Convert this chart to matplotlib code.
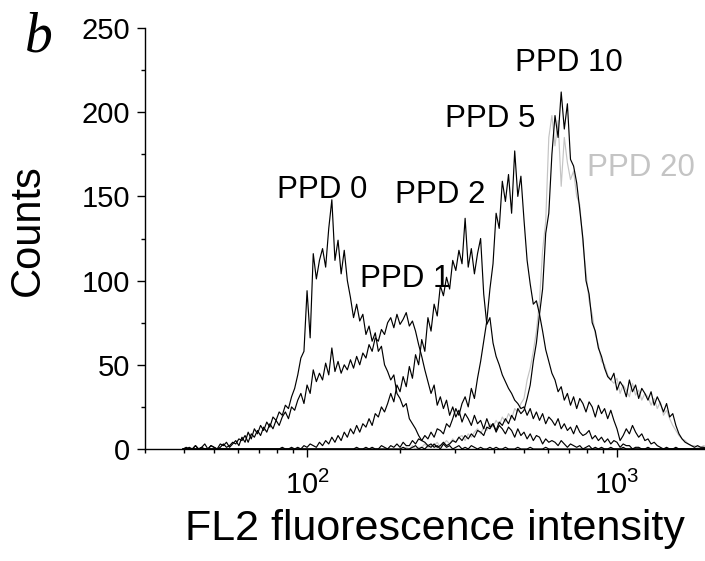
import numpy as np
import matplotlib
matplotlib.use("Agg")
import matplotlib.pyplot as plt
from matplotlib.ticker import MultipleLocator, FixedLocator, FixedFormatter, LogLocator, NullFormatter

plt.rcParams['font.family'] = ['Liberation Sans', 'DejaVu Sans']

# FL2 channels: log10 intensity from 1.60 in steps of 0.01 (171 channels)
log_start = 1.60
log_step = 0.01
n_channels = 171

ppd0 = [0,0,1,0,2,0,1,3,0,2,
        1,0,3,2,4,1,3,5,2,7,
        4,10,6,12,9,14,11,16,13,19,
        17,22,20,26,24,31,36,44,54,58,
        94,66,116,101,112,119,108,131,148,112,
        124,104,118,100,90,78,86,76,80,68,
        73,64,69,58,61,50,46,41,44,33,
        30,25,27,18,15,12,8,5,4,2,
        3,1,2,0,3,1,2,0,1,2,
        0,1,0,2,1,0,1,0,0,1,
        0,1,0,0,1,0,0,0,1,0,
        0,0,1,0,0,0,0,1,0,0,
        0,0,0,0,0,0,0,0,0,0,
        0,0,0,0,0,0,0,0,0,0,
        0,0,0,0,0,0,0,0,0,0,
        0,0,0,0,0,0,0,0,0,0,
        0,0,0,0,0,0,0,0,0,0,0]

ppd1 = [0,1,0,0,2,0,1,0,0,2,
        1,0,1,3,1,2,4,3,6,5,
        8,4,9,7,11,8,13,10,15,12,
        17,14,19,22,18,25,23,29,33,27,
        38,33,47,40,45,41,51,44,60,46,
        52,45,50,47,53,48,55,50,57,54,
        62,58,66,64,71,68,75,78,72,80,
        74,77,81,73,76,70,62,55,47,40,
        33,38,26,31,24,29,20,25,19,23,
        16,21,18,14,20,15,17,12,18,13,
        15,10,14,12,9,13,11,7,12,8,
        10,6,9,5,8,7,3,6,4,5,
        4,2,5,3,1,3,2,1,2,0,
        1,2,0,1,0,1,0,0,1,0,
        0,0,1,0,0,0,0,0,0,0,
        0,0,0,0,0,0,0,0,0,0,
        0,0,0,0,0,0,0,0,0,0,0]

ppd2 = [0,0,0,0,0,0,0,0,0,0,
        0,0,0,0,0,0,0,0,0,0,
        0,0,0,0,0,0,0,0,0,0,
        0,0,1,0,0,1,0,1,0,2,
        1,3,2,1,4,2,5,3,7,4,
        8,5,10,7,12,9,14,10,15,13,
        18,14,21,19,25,22,27,33,28,38,
        34,43,37,49,42,56,50,65,58,78,
        70,86,79,97,91,102,95,112,106,118,
        110,137,108,119,104,116,125,92,74,78,
        63,55,50,44,40,36,33,29,27,24,
        25,20,24,18,22,17,21,15,19,17,
        14,18,12,15,11,13,9,14,10,8,
        9,11,6,8,5,7,4,6,3,5,
        4,1,3,2,2,0,1,1,0,0,
        1,0,0,0,0,0,0,0,0,0,
        0,0,0,0,0,0,0,0,0,0,0]

ppd5 = [0,0,0,0,0,0,0,0,0,0,
        0,0,0,0,0,0,0,0,0,0,
        0,0,0,0,0,0,0,0,0,0,
        0,0,0,0,0,0,0,0,0,0,
        0,0,0,0,0,0,0,0,0,0,
        0,0,0,0,0,0,1,0,0,1,
        0,1,0,0,2,1,0,2,1,3,
        1,4,2,2,5,3,6,5,8,6,
        10,7,12,11,9,15,13,18,24,20,
        27,31,25,36,30,42,52,64,76,95,
        110,140,131,159,147,163,140,177,150,162,
        136,112,98,86,88,80,70,59,52,45,
        41,34,37,29,33,26,31,24,30,27,
        22,28,25,19,26,21,24,18,23,17,
        12,5,8,12,9,14,10,7,9,5,
        6,3,4,2,1,0,1,0,0,1,
        0,0,0,0,0,0,0,0,0,0,0]

ppd10 = [0,0,0,0,0,0,0,0,0,0,
         0,0,0,0,0,0,0,0,0,0,
         0,0,0,0,0,0,0,0,0,0,
         0,0,0,0,0,0,0,0,0,0,
         0,0,0,0,0,0,0,0,0,0,
         0,0,0,0,0,0,0,0,0,0,
         0,0,0,0,0,0,0,0,0,0,
         0,1,0,0,1,2,0,1,0,2,
         1,3,1,2,4,2,3,5,4,7,
         5,8,6,9,7,11,10,8,13,12,
         15,11,16,14,18,15,20,17,24,21,
         23,30,38,52,63,80,95,128,140,175,
         198,185,212,190,205,172,168,158,142,125,
         100,92,75,70,60,55,48,43,41,45,
         35,40,37,31,41,34,38,30,36,33,
         29,34,26,31,27,22,27,19,21,14,
         9,6,4,3,2,1,2,1,1,0,1]

ppd20 = [0,0,0,0,0,0,0,0,0,0,
         0,0,0,0,0,0,0,0,0,0,
         0,0,0,0,0,0,0,0,0,0,
         0,0,0,0,0,0,0,0,0,0,
         0,0,0,0,0,0,0,0,0,0,
         0,0,0,0,0,0,0,0,0,0,
         0,0,0,0,0,0,0,0,0,0,
         0,0,1,0,2,0,1,1,3,1,
         2,2,4,1,3,5,3,6,4,7,
         8,5,9,7,10,12,9,13,11,15,
         13,17,14,19,16,21,18,24,22,27,
         30,41,48,58,70,88,118,135,185,198,
         180,195,156,185,170,160,165,150,145,122,
         105,88,80,68,62,52,50,44,41,39,
         42,33,38,35,31,39,32,35,29,33,
         31,26,30,24,28,20,23,18,14,11,
         8,6,5,3,2,2,1,1,2,1,0]

labels = ["PPD 0", "PPD 1", "PPD 2", "PPD 5", "PPD 10", "PPD 20"]
label_x = [111.7, 207, 270, 389, 700, 1194]
label_y = [154, 101, 151, 196, 229, 167]

y_ticks = [0, 50, 100, 150, 200, 250]
x_ticks = [100, 1000]
x_ticklabels = [r"$\mathregular{10^{2}}$", r"$\mathregular{10^{3}}$"]

fl2 = 10 ** (log_start + log_step * np.arange(n_channels))

fig = plt.figure(figsize=(7.05, 5.61), dpi=100)
ax = fig.add_axes([145/705, 1-449/561, (705-145)/705, (449-28)/561])

gray = "#c4c4c4"
ax.plot(fl2, ppd20, color=gray, lw=0.85, zorder=2)
for s in [ppd0, ppd1, ppd2, ppd5]:
    ax.plot(fl2, s, color="black", lw=0.85, zorder=3)
ax.plot(fl2, ppd10, color="black", lw=0.85, zorder=3)

ax.set_xscale("log")
ax.set_xlim(30, 1923)
ax.set_ylim(0, 250)

ax.spines["top"].set_visible(False)
ax.spines["right"].set_visible(False)
for sp in ["left", "bottom"]:
    ax.spines[sp].set_linewidth(1.0)

ax.yaxis.set_major_locator(FixedLocator(y_ticks))
ax.yaxis.set_minor_locator(MultipleLocator(25))
ax.xaxis.set_major_locator(FixedLocator(x_ticks))
ax.xaxis.set_major_formatter(FixedFormatter(x_ticklabels))
ax.xaxis.set_minor_locator(LogLocator(base=10, subs=np.arange(2, 10)))
ax.xaxis.set_minor_formatter(NullFormatter())

ax.tick_params(axis="both", which="major", direction="out", length=5.8, width=1.0,
               labelsize=21, pad=5)
ax.tick_params(axis="x", which="major", pad=10)
ax.tick_params(axis="both", which="minor", direction="out", length=2.8, width=1.0)

for t, x, y in zip(labels, label_x, label_y):
    c = gray if t == "PPD 20" else "black"
    ax.text(x, y, t, fontsize=22.5, color=c, ha="center", va="center")

fig.text(28/705, 1-230/561, "Counts", rotation=90, fontsize=30, ha="center", va="center")
fig.text(435/705, 1-540/561, "FL2 fluorescence intensity", fontsize=31, ha="center", va="baseline")
fig.text(25/705, 1-52/561, "b", fontsize=40, family="Liberation Serif", style="italic",
         ha="left", va="baseline")

fig.savefig("out.png", dpi=100)
